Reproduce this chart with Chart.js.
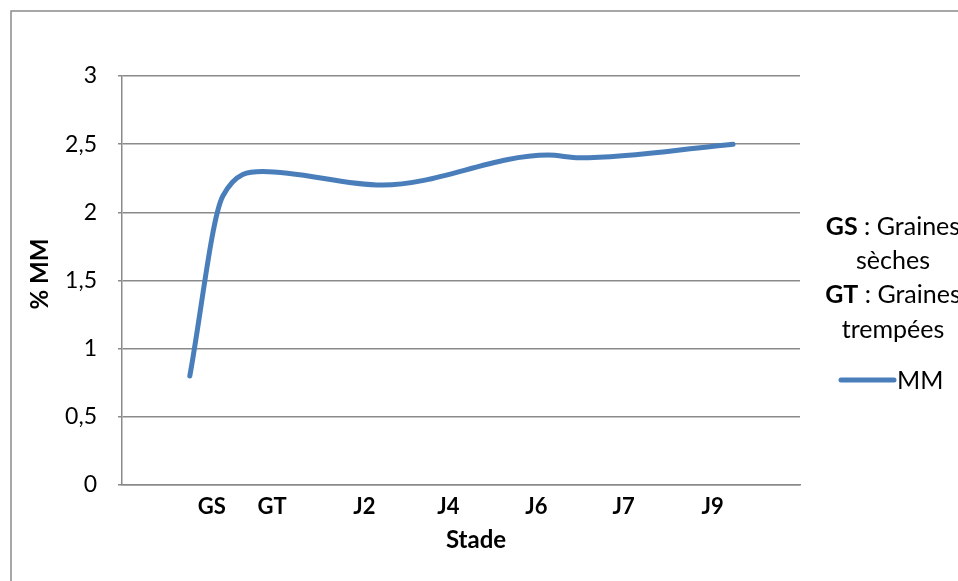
<!DOCTYPE html>
<html lang="fr">
<head>
<meta charset="utf-8">
<title>% MM selon le stade</title>
<script src="https://cdn.jsdelivr.net/npm/chart.js@4.4.1/dist/chart.umd.min.js"></script>
<style>
  html, body { margin: 0; padding: 0; background: #ffffff; }
  #wrap { position: relative; width: 958px; height: 581px; }
</style>
</head>
<body>
<div id="wrap"><canvas id="chart"></canvas></div>
<script>
// Stages shown along the horizontal axis and where their labels sit
const stades = ['GS', 'GT', 'J2', 'J4', 'J6', 'J7', 'J9'];
const stadePositions = [1.06, 1.77, 2.86, 3.85, 4.89, 5.92, 6.97];

// MM series: position along the axis and % MM
const mmX = [0.80, 1.19, 1.66, 3.07, 5.03, 5.40, 7.21];
const mmValues = [0.80, 2.12, 2.30, 2.20, 2.42, 2.40, 2.50];

// Value axis ticks
const yTicks = [0, 0.5, 1, 1.5, 2, 2.5, 3];

// Notes printed beside the plot
const notes = [
  [{ t: 'GS', bold: true }, { t: ' : Graines', bold: false }],
  [{ t: 'sèches', bold: false }],
  [{ t: 'GT', bold: true }, { t: ' : Graines', bold: false }],
  [{ t: 'trempées', bold: false }]
];

const FONT = 'Lato, "Open Sans", sans-serif';
const GRID = '#8a8a8a';
const LINE = '#4a7ebb';
const SIDE_SIZE = 25;

const framePlugin = {
  id: 'frame',
  beforeDraw(chart) {
    const { ctx, width, height } = chart;
    ctx.save();
    ctx.fillStyle = '#ffffff';
    ctx.fillRect(0, 0, width, height);
    ctx.strokeStyle = GRID;
    ctx.lineWidth = 1.5;
    ctx.strokeRect(11, 11, width + 20, height + 20);
    ctx.restore();
  }
};

const textPlugin = {
  id: 'sideText',
  afterDraw(chart) {
    const { ctx } = chart;
    ctx.save();
    ctx.fillStyle = '#000000';
    ctx.textBaseline = 'middle';

    // axis titles
    ctx.font = 'bold 24px ' + FONT;
    ctx.textAlign = 'center';
    ctx.fillText('Stade', 476, 540);
    ctx.save();
    ctx.translate(40, 274);
    ctx.rotate(-Math.PI / 2);
    ctx.fillText('% MM', 0, 0);
    ctx.restore();

    // notes, centred lines
    const cx = 893;
    const lineY = [227, 261, 295, 330];
    notes.forEach((parts, i) => {
      let w = 0;
      parts.forEach(p => {
        ctx.font = (p.bold ? 'bold ' : '') + SIDE_SIZE + 'px ' + FONT;
        w += ctx.measureText(p.t).width;
      });
      let x = cx - w / 2;
      ctx.textAlign = 'left';
      parts.forEach(p => {
        ctx.font = (p.bold ? 'bold ' : '') + SIDE_SIZE + 'px ' + FONT;
        ctx.fillText(p.t, x, lineY[i]);
        x += ctx.measureText(p.t).width;
      });
    });

    // series key
    const ds = chart.data.datasets[0];
    ctx.strokeStyle = ds.borderColor;
    ctx.lineWidth = 5;
    ctx.lineCap = 'round';
    ctx.beginPath();
    ctx.moveTo(841, 380);
    ctx.lineTo(894, 380);
    ctx.stroke();
    ctx.font = SIDE_SIZE + 'px ' + FONT;
    ctx.textAlign = 'left';
    ctx.fillText(ds.label, 897, 381);
    ctx.restore();
  }
};

new Chart(document.getElementById('chart'), {
  type: 'line',
  data: {
    datasets: [{
      label: 'MM',
      data: mmX.map((x, i) => ({ x: x, y: mmValues[i] })),
      borderColor: LINE,
      borderWidth: 5,
      borderCapStyle: 'round',
      borderJoinStyle: 'round',
      cubicInterpolationMode: 'monotone',
      pointRadius: 0,
      pointHoverRadius: 0,
      fill: false
    }]
  },
  options: {
    responsive: true,
    maintainAspectRatio: false,
    animation: false,
    events: [],
    layout: { padding: { top: 76, right: 158, bottom: 0, left: 0 } },
    plugins: {
      legend: { display: false },
      tooltip: { enabled: false }
    },
    scales: {
      x: {
        type: 'linear',
        min: 0,
        max: 8,
        afterFit(scale) { scale.height = 96; },
        afterBuildTicks(scale) {
          scale.ticks = stadePositions.map(v => ({ value: v }));
        },
        grid: { display: false, drawTicks: false },
        border: { display: true, color: GRID, width: 1.5 },
        ticks: {
          autoSkip: false,
          maxRotation: 0,
          padding: 9,
          color: '#000000',
          font: { family: FONT, size: 22, weight: 'bold' },
          callback: (value, index) => stades[index]
        }
      },
      y: {
        min: 0,
        max: 3,
        afterFit(scale) { scale.width = 122; },
        afterBuildTicks(scale) {
          scale.ticks = yTicks.map(v => ({ value: v }));
        },
        grid: { color: GRID, lineWidth: 1.5, drawTicks: true, tickLength: 4, tickColor: GRID },
        border: { display: true, color: GRID, width: 1.5 },
        ticks: {
          padding: 21,
          color: '#000000',
          font: { family: FONT, size: 23 },
          callback: v => String(v).replace('.', ',')
        }
      }
    }
  },
  plugins: [framePlugin, textPlugin]
});
</script>
</body>
</html>
